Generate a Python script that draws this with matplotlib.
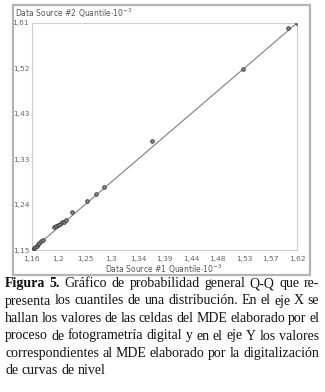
import matplotlib
matplotlib.use("Agg")
import matplotlib.pyplot as plt
from matplotlib.patches import Rectangle

# quantiles (x10^-3)
q_source1 = [1.161, 1.163, 1.166, 1.168, 1.171, 1.173, 1.176, 1.179,
             1.199, 1.202, 1.205, 1.209, 1.212, 1.215, 1.219,
             1.229, 1.255, 1.271, 1.285, 1.368, 1.526, 1.604, 1.620]
q_source2 = [1.151, 1.154, 1.157, 1.159, 1.163, 1.165, 1.168, 1.171,
             1.196, 1.198, 1.200, 1.203, 1.206, 1.207, 1.210,
             1.227, 1.250, 1.264, 1.278, 1.371, 1.517, 1.600, 1.610]
ref_x = [1.16, 1.62]
ref_y = [1.15, 1.61]

x_ticks = [1.16, 1.206, 1.252, 1.298, 1.344, 1.39, 1.436, 1.482, 1.528, 1.574, 1.62]
x_labels = ["1,16", "1,2", "1,25", "1,3", "1,34", "1,39", "1,44", "1,48", "1,53", "1,57", "1,62"]
y_ticks = [1.15, 1.242, 1.334, 1.426, 1.518, 1.61]
y_labels = ["1,15", "1,24", "1,33", "1,43", "1,52", "1,61"]

caption_lines = [
    "Gráfico de probabilidad general Q-Q que re-",
    "presenta los cuantiles de una distribución. En el eje X se",
    "hallan los valores de las celdas del MDE elaborado por el",
    "proceso de fotogrametría digital y en el eje Y los valores",
    "correspondientes al MDE elaborado por la digitalización",
    "de curvas de nivel",
]

W, H = 325, 392
fig = plt.figure(figsize=(W / 100, H / 100), dpi=100)

# outer frame of the chart image
fig.patches.append(Rectangle((13 / W, 1 - 275 / H), 297 / W, 270 / H,
                             transform=fig.transFigure, fill=False,
                             edgecolor="#b4b4b4", linewidth=1.6))

ax = fig.add_axes([32 / W, 1 - 250 / H, 265 / W, 227 / H])
ax.plot(ref_x, ref_y, color="#8a8a8a", linewidth=0.9, zorder=2)
ax.plot(q_source1, q_source2, linestyle="none", marker="o", markersize=2.6,
        markerfacecolor="#8a8a8a", markeredgecolor="#333333",
        markeredgewidth=0.6, zorder=3)
ax.set_xlim(1.16, 1.62)
ax.set_ylim(1.15, 1.61)
ax.set_xticks(x_ticks)
ax.set_xticklabels(x_labels)
ax.set_yticks(y_ticks)
ax.set_yticklabels(y_labels)
ax.tick_params(length=0, labelsize=5.4, labelcolor="#666666")
ax.tick_params(axis="x", pad=4)
ax.tick_params(axis="y", pad=2)
for s in ax.spines.values():
    s.set_color("#cfcfcf")
    s.set_linewidth(0.8)

fig.text(15 / W, 1 - 13 / H, r"Data Source #2 Quantile$\cdot10^{-3}$",
         fontsize=5.5, color="#555555", va="center", ha="left")
fig.text(164 / W, 1 - 269 / H, r"Data Source #1 Quantile$\cdot10^{-3}$",
         fontsize=5.5, color="#555555", va="center", ha="center")

# caption, justified word by word
left, right = 5, 319
baselines = [287, 304.5, 322, 339.5, 357, 374]
fs = 10.0
fig.canvas.draw()
rend = fig.canvas.get_renderer()


def word_width(w, bold=False):
    t = fig.text(0, 0, w, fontsize=fs, family="Liberation Serif",
                 weight="bold" if bold else "normal")
    wd = t.get_window_extent(rend).width
    t.remove()
    return wd


for i, line in enumerate(caption_lines):
    words = [(w, False) for w in line.split(" ")]
    if i == 0:
        words = [("Figura", True), ("5.", True)] + words
    widths = [word_width(w, b) for w, b in words]
    if i < len(caption_lines) - 1:
        gap = (right - left - sum(widths)) / (len(words) - 1)
    else:
        gap = word_width("a b") - word_width("ab")
    x = left
    for (w, b), wd in zip(words, widths):
        fig.text(x / W, 1 - baselines[i] / H, w, fontsize=fs,
                 family="Liberation Serif", weight="bold" if b else "normal",
                 va="baseline", ha="left", color="#111111")
        x += wd + gap

fig.savefig("out.png", dpi=100)
